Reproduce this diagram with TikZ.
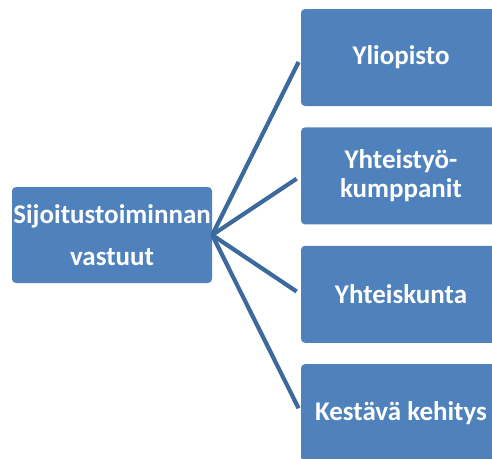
\documentclass[tikz,border=0pt]{standalone}
\usepackage{fontspec}
\setmainfont{Carlito}
\usetikzlibrary{positioning}
\definecolor{boxblue}{HTML}{4F81BD}
\definecolor{lineblue}{HTML}{3C6A9E}
\tikzset{
    laatikko/.style={fill=boxblue,rounded corners=4pt,minimum width=200pt,
        minimum height=97pt,inner sep=0pt,text=white,align=center,
        font=\fontsize{27}{29}\selectfont\bfseries},
    haara/.style={lineblue,line width=4.2pt,shorten >=5pt}
}
\begin{document}
\begin{tikzpicture}[x=1pt,y=1pt]
        \useasboundingbox (0,0) rectangle (492,-458);
        \clip (0,0) rectangle (492,-458);
        \node[laatikko,minimum height=96pt,font=\fontsize{27}{42}\selectfont\bfseries] (vastuut) at (112,-235) {Sijoitustoiminnan\\vastuut};
        \node[laatikko] (yliopisto) at (401,-57.5) {Yliopisto};
        \node[laatikko,below=21pt of yliopisto] (kumppanit) {Yhteistyö-\\kumppanit};
        \node[laatikko,below=21pt of kumppanit] (yhteiskunta) {Yhteiskunta};
        \node[laatikko,below=21pt of yhteiskunta] (kehitys) {Kestävä kehitys};
        %haarat
        \draw[haara] (vastuut.east)--(yliopisto.west);
        \draw[haara] (vastuut.east)--(kumppanit.west);
        \draw[haara] (vastuut.east)--(yhteiskunta.west);
        \draw[haara] (vastuut.east)--(kehitys.west);
    \end{tikzpicture}
\end{document}
